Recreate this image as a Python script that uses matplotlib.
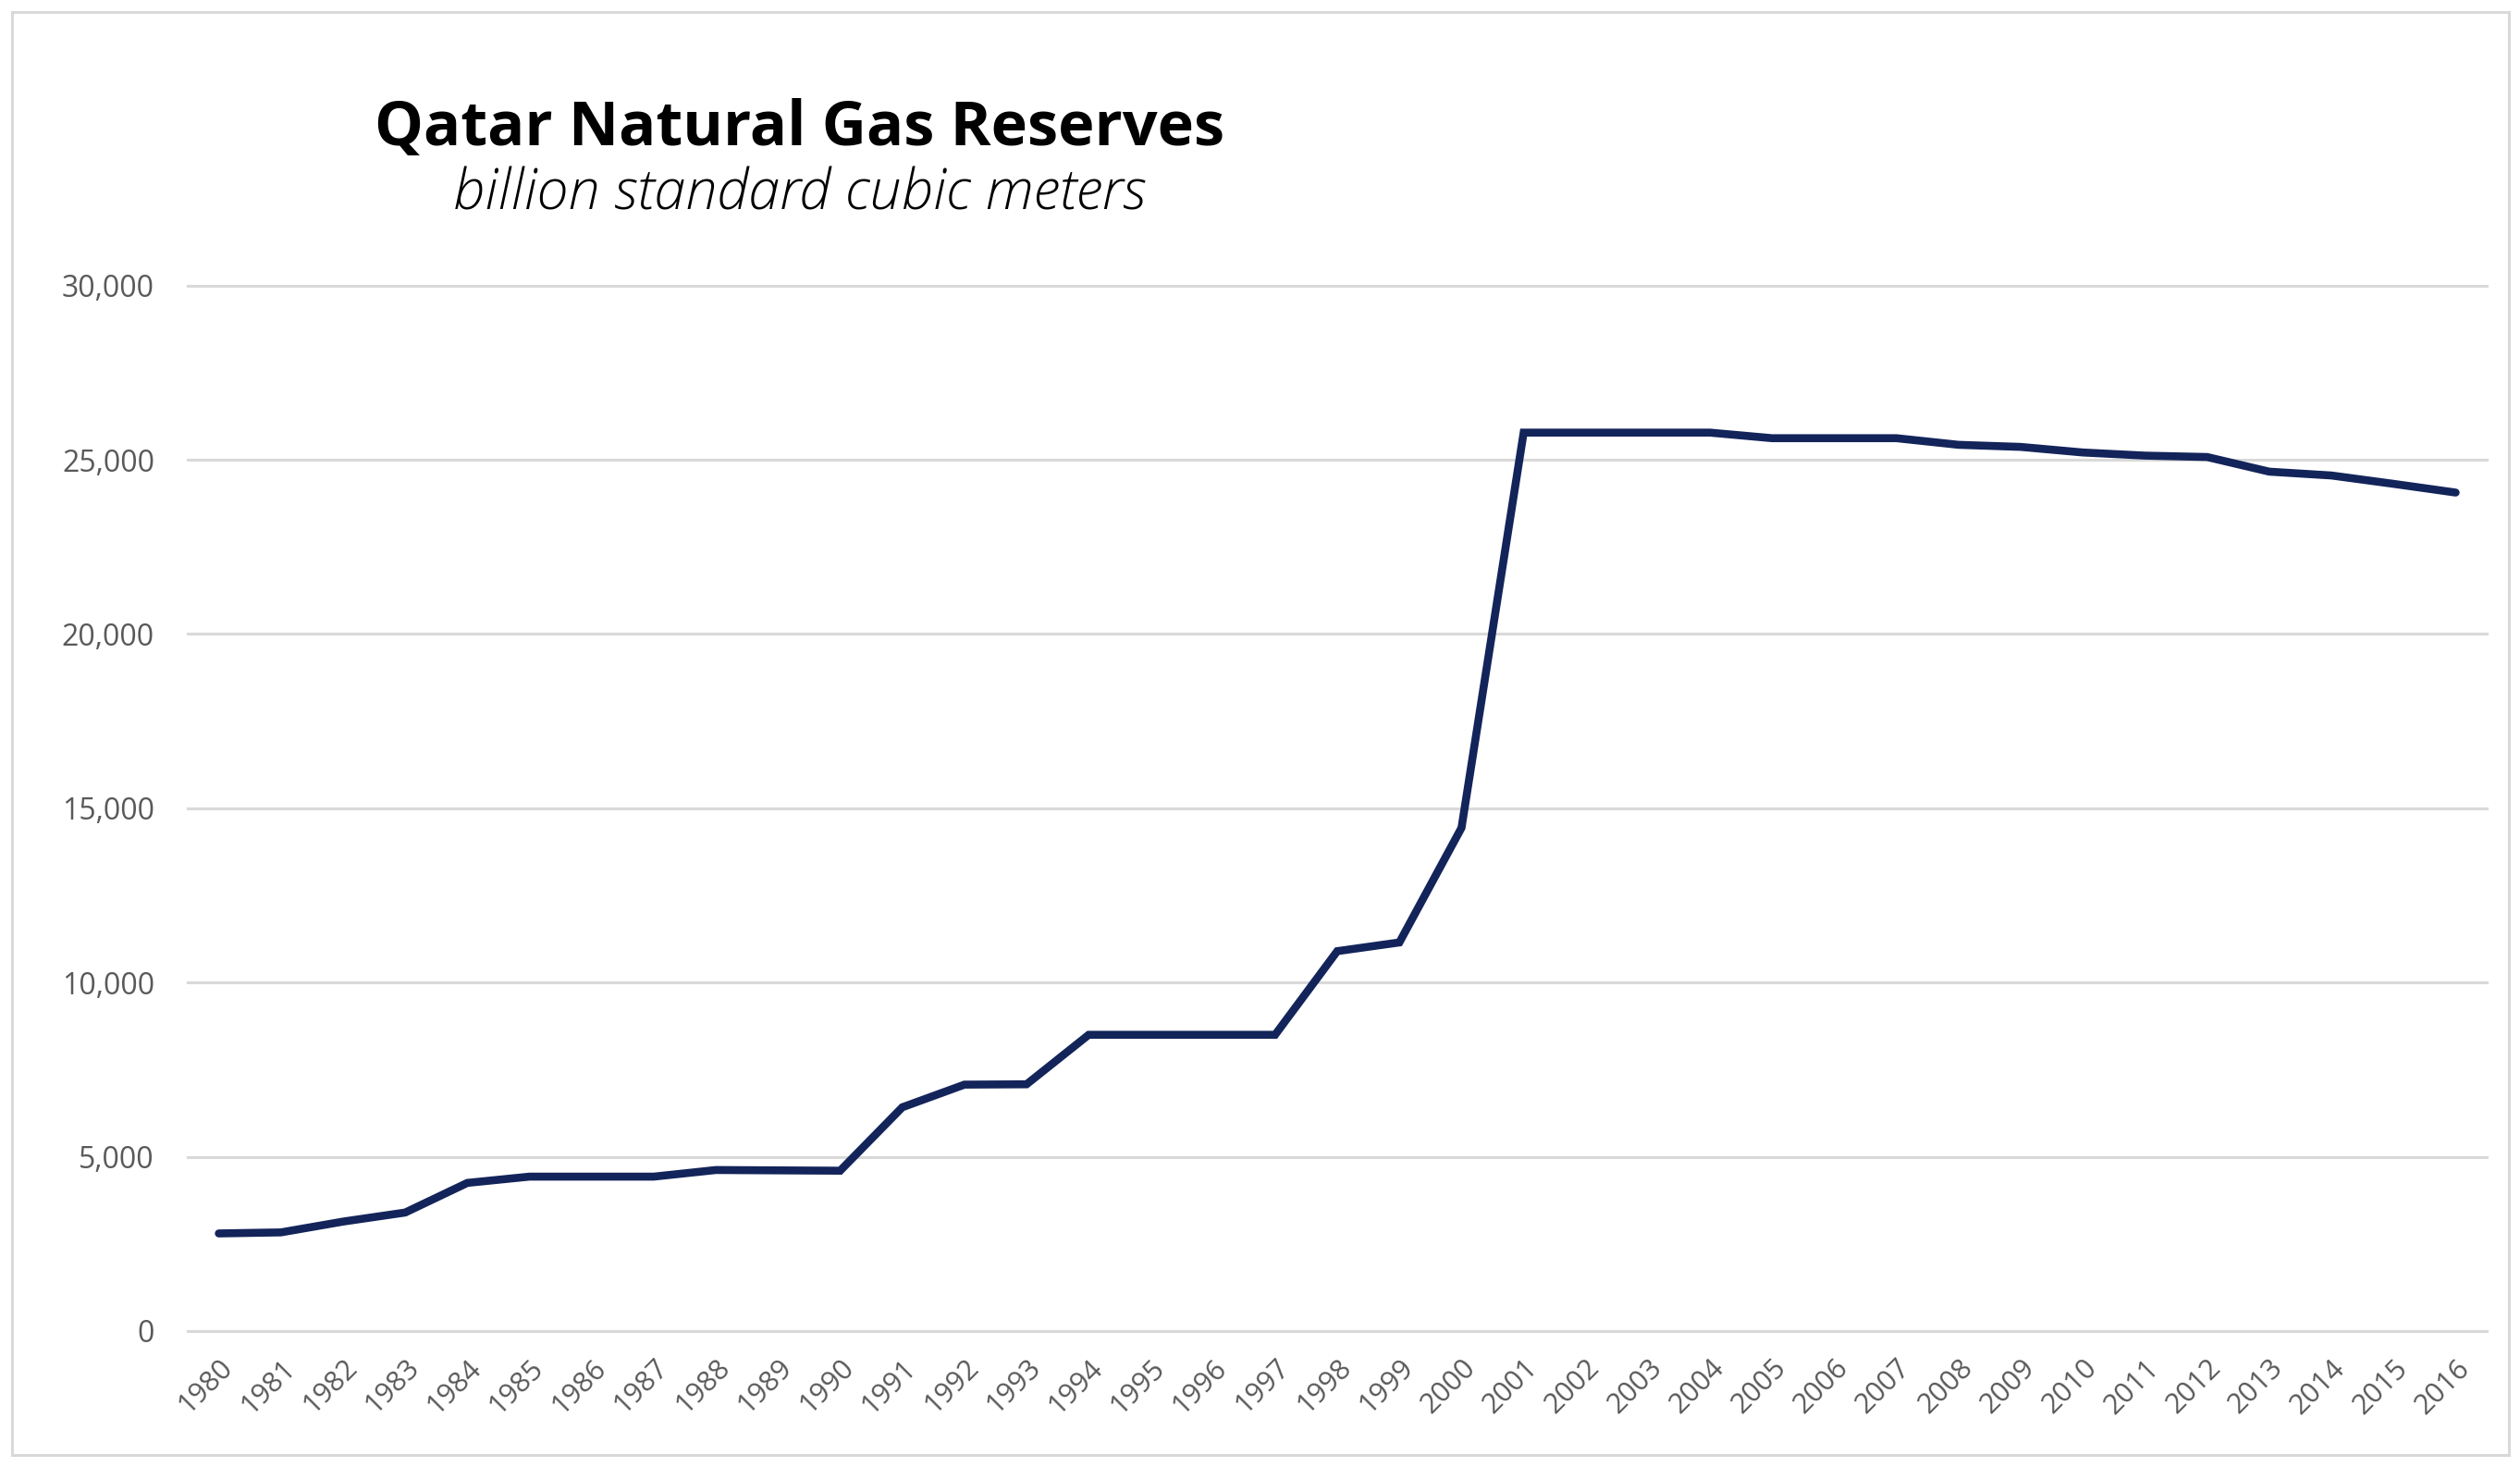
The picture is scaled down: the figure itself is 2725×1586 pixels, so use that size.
import matplotlib
matplotlib.use("Agg")
import matplotlib.pyplot as plt
from matplotlib.patches import Rectangle
from matplotlib.ticker import FuncFormatter

# Data (billion standard cubic meters)
years = list(range(1980, 2017))
reserves = [
    2800, 2830, 3140, 3400, 4250, 4430, 4430, 4430, 4620, 4610,
    4600, 6420, 7070, 7080, 8500, 8500, 8500, 8500, 10900, 11150,
    14440, 25780, 25780, 25780, 25780, 25620, 25620, 25620, 25430, 25370,
    25210, 25120, 25080, 24660, 24550, 24310, 24060,
]
y_ticks = [0, 5000, 10000, 15000, 20000, 25000, 30000]

title = "Qatar Natural Gas Reserves"
subtitle = "billion standard cubic meters"

line_color = "#13245A"
grid_color = "#D9D9D9"
label_color = "#595959"

fig = plt.figure(figsize=(27.25, 15.86), dpi=100)
fig.patch.set_facecolor("white")

# chart border
fig.patches.append(Rectangle((0.0048, 0.0082), 0.9908, 0.9836, transform=fig.transFigure,
                             fill=False, edgecolor=grid_color, linewidth=2.2))

# plot area
ax = fig.add_axes([0.0745, 0.0927, 0.9123, 0.7364])
ax.plot(years, reserves, color=line_color, linewidth=6.2, solid_capstyle="round",
        solid_joinstyle="miter", zorder=3)

ax.set_xlim(1979.5, 2016.5)
ax.set_ylim(0, 31000)
ax.set_yticks(y_ticks)
ax.yaxis.set_major_formatter(FuncFormatter(lambda v, p: f"{int(v):,}"))
ax.set_xticks(years)
ax.set_xticklabels([str(y) for y in years], rotation=45, ha="right", va="top",
                   rotation_mode="anchor")

for v in y_ticks:
    ax.axhline(v, color=grid_color, linewidth=2.2, zorder=1, clip_on=False)

for s in ax.spines.values():
    s.set_visible(False)
ax.tick_params(axis="both", length=0, colors=label_color)
ax.tick_params(axis="y", pad=26, labelsize=23)
ax.tick_params(axis="x", pad=18, labelsize=22)
for lab in ax.get_xticklabels() + ax.get_yticklabels():
    lab.set_fontfamily("Open Sans")
    lab.set_color(label_color)

fig.text(0.3174, 0.901, title, ha="center", va="baseline", fontsize=48,
         fontweight="bold", family="Open Sans", color="black")
fig.text(0.3174, 0.8569, subtitle, ha="center", va="baseline", fontsize=44,
         fontstyle="italic", fontweight="light", family="Open Sans", color="black")

fig.savefig("out.png", dpi=100, facecolor="white")
